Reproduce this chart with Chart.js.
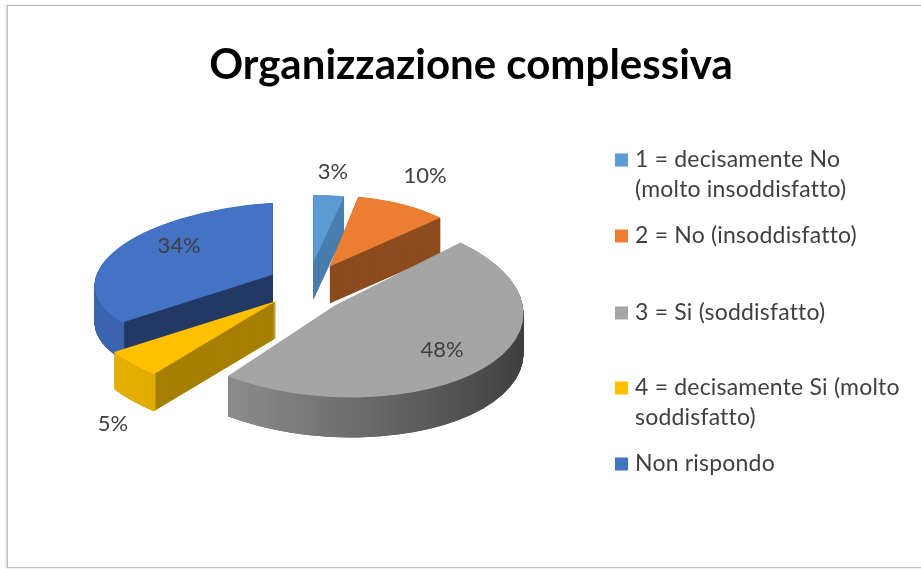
<!DOCTYPE html>
<html>
<head>
<meta charset="utf-8">
<title>Organizzazione complessiva</title>
<script src="https://cdn.jsdelivr.net/npm/chart.js@4"></script>
<style>
  html, body { margin: 0; padding: 0; background: #fff; overflow: hidden; }
  #frame { position: absolute; left: 7px; top: 5px; width: 940px; height: 561px; border: 1.5px solid #bcbcbc; box-shadow: -1px 0 2px #d0d0d0; }
  #pie { position: absolute; left: 21px; top: 0; filter: blur(0.6px); }
</style>
</head>
<body>
<div id="frame"></div>
<canvas id="pie" width="900" height="569"></canvas>
<script>
const chartTitle = "Organizzazione complessiva";
const categories = [
  ["1 = decisamente No", "(molto insoddisfatto)"],
  ["2 = No (insoddisfatto)"],
  ["3 = Si (soddisfatto)"],
  ["4 = decisamente Si (molto", "soddisfatto)"],
  ["Non rispondo"]
];
const values = [3, 10, 48, 5, 34];

const topColors = ["#5b9bd5", "#ed7d31", "#a5a5a5", "#ffc000", "#4472c4"];
const cutColors = ["#4a7eaf", "#8c4c20", "#6a6a6a", "#a67f00", "#253a66"];
const rimColors = [["#4a7eaf", "#4a7eaf"], ["#8c4c20", "#8c4c20"], ["#8c8c8c", "#3e3e3e"], ["#e6ae00", "#c49500"], ["#3a64b0", "#3a64b0"]];

// how each exploded slice is squashed into the 3d view
const canvasLeft = 21;
const pieCenter = [308 - canvasLeft, 285];
const explodeY = 0.47;
const radiusX = [165, 152, 188, 192, 178];
const radiusY = [68, 71, 92, 95, 72];
const skewX = [0, 0, 0.18, 0, 0];
const skewY = [0, 0, 0, 0, -0.06];
const nudgeX = [1, 0, -6, 2, 4];
const nudgeY = [-1, 0, 6, 2, 0];
const wallDepth = [37, 37, 40, 37, 37];
const drawOrder = [0, 1, 4, 3, 2];

// label and legend layout, page px
const valueLabelX = [333, 425, 442, 113, 179];
const valueLabelY = [172, 176, 350, 424, 246];
const legendY = [160, 236, 313, 388, 464];
const legendBoxX = 615, legendBoxSize = 13, legendTextX = 635, legendLine = 30;
const textColor = "#3f3f3f";

function shade(ctx, arc, inner, fill) {
  const s = Object.create(arc);
  s.innerRadius = inner;
  s.options = { backgroundColor: fill, borderWidth: 0, borderRadius: 0, offset: 0, spacing: 0, circular: true, borderAlign: "center" };
  s.draw(ctx);
}

function place(ctx, arc, i, drop) {
  const mid = (arc.startAngle + arc.endAngle) / 2;
  const e = (arc.options.offset || 0) / 4;
  const sx = radiusX[i] / arc.outerRadius;
  const sy = radiusY[i] / arc.outerRadius;
  ctx.translate(pieCenter[0] + Math.cos(mid) * e + nudgeX[i], pieCenter[1] + Math.sin(mid) * e * explodeY + nudgeY[i] + drop);
  ctx.transform(sx, skewY[i] * sx, skewX[i] * sy, sy, 0, 0);
  ctx.translate(-arc.x, -arc.y);
}

const slice3d = {
  id: "slice3d",
  beforeDatasetDraw(chart) {
    const ctx = chart.ctx;
    const arcs = chart.getDatasetMeta(0).data;
    drawOrder.forEach(i => {
      const arc = arcs[i];
      const r = arc.outerRadius;
      const rim = ctx.createLinearGradient(arc.x + Math.min(Math.sin(arc.startAngle + Math.PI / 2), Math.sin(arc.endAngle + Math.PI / 2), 0) * r, 0, arc.x + r, 0);
      rim.addColorStop(0, rimColors[i][0]);
      rim.addColorStop(1, rimColors[i][1]);
      // whole slice swept down in the cut colour, then only its outer ring in the rim colour
      for (let d = wallDepth[i]; d > 0; d -= 0.5) {
        ctx.save();
        place(ctx, arc, i, d);
        shade(ctx, arc, 0, cutColors[i]);
        ctx.restore();
      }
      for (let d = wallDepth[i]; d > 0; d -= 0.5) {
        ctx.save();
        place(ctx, arc, i, d);
        shade(ctx, arc, r * 0.985, rim);
        ctx.restore();
      }
      ctx.save();
      place(ctx, arc, i, 0);
      shade(ctx, arc, 0, topColors[i]);
      ctx.restore();
    });
    return false;
  },
  afterDraw(chart) {
    const ctx = chart.ctx;
    ctx.save();
    ctx.fillStyle = textColor;
    ctx.textBaseline = "middle";
    ctx.textAlign = "center";
    ctx.font = "22px Lato";
    values.forEach((v, i) => ctx.fillText(v + "%", valueLabelX[i] - canvasLeft, valueLabelY[i]));
    ctx.textAlign = "left";
    ctx.font = "23px Lato";
    ctx.letterSpacing = "0.2px";
    categories.forEach((lines, i) => {
      ctx.fillStyle = topColors[i];
      ctx.fillRect(legendBoxX - canvasLeft, legendY[i] - legendBoxSize / 2, legendBoxSize, legendBoxSize);
      ctx.fillStyle = textColor;
      lines.forEach((line, n) => ctx.fillText(line, legendTextX - canvasLeft, legendY[i] + n * legendLine));
    });
    ctx.restore();
  }
};

new Chart(document.getElementById("pie"), {
  type: "pie",
  data: {
    labels: categories.map(c => c.join(" ")),
    datasets: [{ data: values, backgroundColor: topColors, borderWidth: 0, offset: 180 }]
  },
  options: {
    responsive: false,
    animation: false,
    plugins: {
      legend: { display: false },
      tooltip: { enabled: false },
      title: {
        display: true,
        text: chartTitle,
        color: "#000",
        font: { family: "Lato", size: 42, weight: "bold" },
        padding: { top: 40, bottom: 20 }
      }
    }
  },
  plugins: [slice3d]
});
</script>
</body>
</html>
